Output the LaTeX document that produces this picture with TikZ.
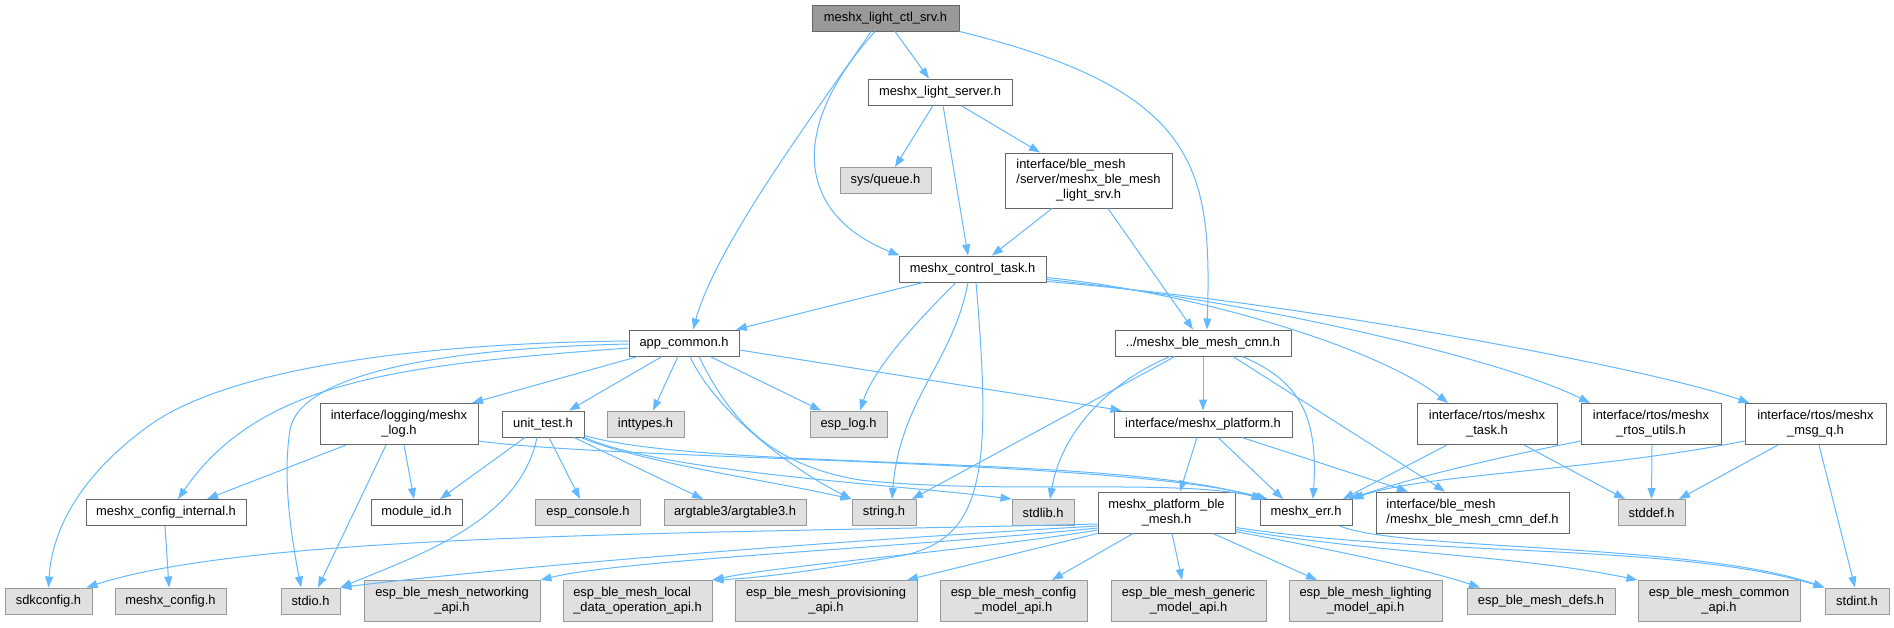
\documentclass[tikz,border=0pt]{standalone}
\usepackage{fontspec}
\setmainfont{Liberation Sans}
\usetikzlibrary{arrows.meta}

\definecolor{edgeblue}{HTML}{63B8FF}
\definecolor{boxline}{HTML}{666666}
\definecolor{sysline}{HTML}{999999}
\definecolor{sysfill}{HTML}{E0E0E0}

% labels on two or three lines, last line centred
\newcommand{\twoln}[2]{\begin{tabular}{@{}l@{}}#1\\\multicolumn{1}{@{}c@{}}{#2}\end{tabular}}
\newcommand{\threeln}[3]{\begin{tabular}{@{}l@{}}#1\\#2\\\multicolumn{1}{@{}c@{}}{#3}\end{tabular}}

\tikzset{
    file/.style={draw=boxline, fill=white, line width=1pt, inner sep=0pt,
        minimum height=26pt, font=\fontsize{12.9}{15}\selectfont},
    sysfile/.style={file, draw=sysline, fill=sysfill},
    rootfile/.style={file, fill=sysline},
    tall/.style={minimum height=41pt},
    dep/.style={draw=edgeblue, line width=1pt, -{Triangle[length=11pt,width=8pt]}}
}

\begin{document}
\begin{tikzpicture}[x=1pt, y=-1pt]

\useasboundingbox (0,0) rectangle (1894,627);

% --- Zeile 0 bis 3 ---
\node[rootfile, minimum width=147pt] (ctl) at (885.5,18) {meshx\_light\_ctl\_srv.h};
\node[file, minimum width=144pt] (lserver) at (940,92) {meshx\_light\_server.h};
\node[sysfile, minimum width=91pt] (queue) at (885.5,180.5) {sys/queue.h};
\node[file, minimum width=167pt, minimum height=55pt] (lightsrv) at (1088.5,180.5)
    {\threeln{interface/ble\_mesh}{/server/meshx\_ble\_mesh}{\_light\_srv.h}};
\node[file, minimum width=147pt] (ctask) at (972.5,269) {meshx\_control\_task.h};

% --- Zeile 4 ---
\node[file, minimum width=110pt] (appc) at (684,343) {app\_common.h};
\node[file, minimum width=176pt] (bmcmn) at (1203,343) {../meshx\_ble\_mesh\_cmn.h};

% --- Zeile 5 ---
\node[file, tall, minimum width=158pt] (mlog) at (399,424) {\twoln{interface/logging/meshx}{\_log.h}};
\node[file, minimum width=82pt] (utest) at (543,424) {unit\_test.h};
\node[sysfile, minimum width=77pt] (inttypes) at (645.5,424) {inttypes.h};
\node[sysfile, minimum width=77pt] (esplog) at (848.5,424) {esp\_log.h};
\node[file, minimum width=178pt] (mplat) at (1203,424) {interface/meshx\_platform.h};
\node[file, tall, minimum width=140pt] (rtask) at (1487,424) {\twoln{interface/rtos/meshx}{\_task.h}};
\node[file, tall, minimum width=140pt] (rutils) at (1651,424) {\twoln{interface/rtos/meshx}{\_rtos\_utils.h}};
\node[file, tall, minimum width=141pt] (rmsgq) at (1815.5,424) {\twoln{interface/rtos/meshx}{\_msg\_q.h}};

% --- Zeile 6 ---
\node[file, minimum width=160pt] (cfgint) at (166,512.5) {meshx\_config\_internal.h};
\node[file, minimum width=91pt] (modid) at (416.5,512.5) {module\_id.h};
\node[sysfile, minimum width=105pt] (espcons) at (588,512.5) {esp\_console.h};
\node[sysfile, minimum width=142pt] (argt) at (735,512.5) {argtable3/argtable3.h};
\node[sysfile, minimum width=64pt] (strh) at (884,512.5) {string.h};
\node[sysfile, minimum width=62pt] (stdlibh) at (1043,512.5) {stdlib.h};
\node[file, tall, minimum width=137pt] (pblemesh) at (1166.5,512.5) {\twoln{meshx\_platform\_ble}{\_mesh.h}};
\node[file, minimum width=92pt] (merr) at (1306,512.5) {meshx\_err.h};
\node[file, tall, minimum width=193pt] (cmndef) at (1472.5,512.5) {\twoln{interface/ble\_mesh}{/meshx\_ble\_mesh\_cmn\_def.h}};
\node[sysfile, minimum width=67pt] (stddefh) at (1651.5,512.5) {stddef.h};

% --- Zeile 7 ---
\node[sysfile, minimum width=87pt] (sdkcfg) at (48.5,601) {sdkconfig.h};
\node[sysfile, minimum width=111pt] (mcfg) at (170.5,601) {meshx\_config.h};
\node[sysfile, minimum width=59pt] (stdioh) at (310.5,601) {stdio.h};
\node[sysfile, tall, minimum width=176pt] (netapi) at (452,601) {\twoln{esp\_ble\_mesh\_networking}{\_api.h}};
\node[sysfile, tall, minimum width=149pt] (localapi) at (637.5,601) {\twoln{esp\_ble\_mesh\_local}{\_data\_operation\_api.h}};
\node[sysfile, tall, minimum width=182pt] (provapi) at (826,601) {\twoln{esp\_ble\_mesh\_provisioning}{\_api.h}};
\node[sysfile, tall, minimum width=147pt] (cfgapi) at (1013.5,601) {\twoln{esp\_ble\_mesh\_config}{\_model\_api.h}};
\node[sysfile, tall, minimum width=155pt] (genapi) at (1188.5,601) {\twoln{esp\_ble\_mesh\_generic}{\_model\_api.h}};
\node[sysfile, tall, minimum width=153pt] (lightapi) at (1365.5,601) {\twoln{esp\_ble\_mesh\_lighting}{\_model\_api.h}};
\node[sysfile, minimum width=148pt] (defsh) at (1541,601) {esp\_ble\_mesh\_defs.h};
\node[sysfile, tall, minimum width=162pt] (commapi) at (1719,601) {\twoln{esp\_ble\_mesh\_common}{\_api.h}};
\node[sysfile, minimum width=64pt] (stdinth) at (1857,601) {stdint.h};

% --- Kanten von meshx_light_ctl_srv.h ---
\draw[dep] ([xshift=-14.5pt]ctl.south) .. controls +(-40,60) and +(25,-90) .. ([xshift=9pt]appc.north);
\draw[dep] ([xshift=-10.5pt]ctl.south) .. controls +(-90,100) and +(-100,-40) .. ([xshift=1pt]ctask.north west);
\draw[dep] ([xshift=9.5pt]ctl.south) -- ([xshift=-11pt]lserver.north);
\draw[dep] (ctl.south east) .. controls +(241,59) and +(5,-160) .. ([xshift=4pt]bmcmn.north);

% --- meshx_light_server.h ---
\draw[dep] ([xshift=-7pt]lserver.south) -- ([xshift=9.5pt]queue.north);
\draw[dep] ([xshift=3pt]lserver.south) -- ([xshift=-4.5pt]ctask.north);
\draw[dep] ([xshift=21pt]lserver.south) -- ([xshift=-48.5pt]lightsrv.north);

% --- meshx_ble_mesh_light_srv.h ---
\draw[dep] ([xshift=-36.5pt]lightsrv.south) -- ([xshift=19.5pt]ctask.north);
\draw[dep] ([xshift=19.5pt]lightsrv.south) -- ([xshift=-10pt]bmcmn.north);

% --- meshx_control_task.h ---
\draw[dep] ([xshift=-49.5pt]ctask.south) -- ([xshift=52pt]appc.north);
\draw[dep] ([xshift=-16.5pt]ctask.south) .. controls +(-35,35) and +(15,-45) .. ([xshift=11.5pt]esplog.north);
\draw[dep] ([xshift=-4.5pt]ctask.south) .. controls +(-15,80) and +(8,-100) .. ([xshift=8pt]strh.north);
\draw[dep] ([xshift=3.5pt]ctask.south) .. controls (992,470) and (985,540) .. (900,556)
    .. controls (820,570) and (760,578) .. (localapi.north east);
\draw[dep] ([yshift=5pt]ctask.south east) .. controls +(150,15) and +(-70,-55) .. ([xshift=-39pt]rtask.north);
\draw[dep] ([yshift=3pt]ctask.south east) .. controls +(200,20) and +(-90,-45) .. ([xshift=-61pt]rutils.north);
\draw[dep] ([yshift=1pt]ctask.south east) .. controls +(250,20) and +(-100,-35) .. ([xshift=5pt]rmsgq.north west);

% --- app_common.h ---
\draw[dep] ([yshift=2pt]appc.west) .. controls (420,343) and (230,368) .. (150,425)
    .. controls (80,475) and (52,530) .. (sdkcfg.north);
\draw[dep] ([yshift=-1pt]appc.west) .. controls (450,348) and (300,372) .. (290,430)
    .. controls (282,480) and (292,540) .. ([xshift=-9.5pt]stdioh.north);
\draw[dep] ([yshift=-5pt]appc.west) .. controls +(-229,17) and +(82,-119) .. ([xshift=12pt]cfgint.north);
\draw[dep] ([xshift=-46pt]appc.south) -- ([xshift=73pt]mlog.north);
\draw[dep] ([xshift=-22pt]appc.south) -- ([xshift=26pt]utest.north);
\draw[dep] ([xshift=-6pt]appc.south) -- ([xshift=7.5pt]inttypes.north);
\draw[dep] ([xshift=26pt]appc.south) -- ([xshift=-27.5pt]esplog.north);
\draw[dep] ([xshift=6pt]appc.south) .. controls +(25,55) and +(-60,-30) .. (strh.north west);
\draw[dep] ([xshift=15pt]appc.south) .. controls (730,420) and (770,465) .. (860,480)
    .. controls (1000,495) and (1180,478) .. ([xshift=5pt]merr.north west);
\draw[dep] ([yshift=-7pt]appc.east) -- ([xshift=8pt]mplat.north west);

% --- meshx_log.h ---
\draw[dep] ([xshift=-53pt]mlog.south) -- ([xshift=41pt]cfgint.north);
\draw[dep] ([xshift=-13pt]mlog.south) -- ([xshift=7.5pt]stdioh.north);
\draw[dep] ([xshift=5pt]mlog.south) -- ([xshift=-2.5pt]modid.north);
\draw[dep] ([yshift=-17pt]mlog.east) .. controls +(150,20) and +(-150,-40) .. ([xshift=8pt]merr.north west);

% --- meshx_config_internal.h ---
\draw[dep] ([xshift=-1pt]cfgint.south) -- ([xshift=-1.5pt]mcfg.north);

% --- unit_test.h ---
\draw[dep] ([xshift=-18pt]utest.south) -- ([xshift=23.5pt]modid.north);
\draw[dep] ([xshift=-6pt]utest.south) .. controls +(-17,83) and +(80,-33) .. (stdioh.north east);
\draw[dep] ([xshift=6pt]utest.south) -- ([xshift=-8pt]espcons.north);
\draw[dep] ([xshift=31pt]utest.south) -- ([xshift=-32pt]argt.north);
\draw[dep] ([xshift=38pt]utest.south) .. controls +(60,25) and +(-90,-20) .. (strh.north west);
\draw[dep] (utest.south east) .. controls +(80,35) and +(-120,-15) .. (stdlibh.north west);
\draw[dep] ([yshift=2pt]utest.south east) .. controls +(120,35) and +(-150,-45) .. ([xshift=3pt]merr.north west);

% --- meshx_platform.h ---
\draw[dep] ([xshift=-6pt]mplat.south) -- ([xshift=13.5pt]pblemesh.north);
\draw[dep] ([xshift=15pt]mplat.south) -- ([xshift=-23pt]merr.north);
\draw[dep] ([xshift=39pt]mplat.south) -- ([xshift=-64.5pt]cmndef.north);

% --- meshx_ble_mesh_cmn.h ---
\draw[dep] ([xshift=-28pt]bmcmn.south) -- ([xshift=28pt]strh.north);
\draw[dep] ([xshift=-33pt]bmcmn.south) .. controls +(-70,30) and +(10,-60) .. ([xshift=7pt]stdlibh.north);
\draw[dep] (bmcmn.south) -- (mplat.north);
\draw[dep] ([xshift=39pt]bmcmn.south) .. controls +(60,25) and +(5,-80) .. ([xshift=7pt]merr.north);
\draw[dep] ([xshift=30pt]bmcmn.south) -- ([xshift=-27.5pt]cmndef.north);

% --- rtos ---
\draw[dep] ([xshift=-40pt]rtask.south) -- ([xshift=37pt]merr.north);
\draw[dep] ([xshift=37pt]rtask.south) -- ([xshift=-26.5pt]stddefh.north);
\draw[dep] ([yshift=-17pt]rutils.west) .. controls +(-100,20) and +(60,-20) .. ([xshift=43pt]merr.north);
\draw[dep] ([xshift=1pt]rutils.south) -- (stddefh.north);
\draw[dep] ([yshift=-17pt]rmsgq.west) .. controls +(-150,30) and +(70,-25) .. (merr.north east);
\draw[dep] ([xshift=-37.5pt]rmsgq.south) -- ([xshift=27.5pt]stddefh.north);
\draw[dep] ([xshift=3.5pt]rmsgq.south) -- ([xshift=-2pt]stdinth.north);

% --- meshx_err.h ---
\draw[dep] ([xshift=34pt]merr.south) .. controls +(60,25) and +(-130,-45) .. (stdinth.north west);

% --- meshx_platform_ble_mesh.h ---
\draw[dep] ([yshift=-11.5pt]pblemesh.west) .. controls +(-400,10) and +(170,-55) .. ([xshift=-6pt]sdkcfg.north east);
\draw[dep] ([yshift=-13.5pt]pblemesh.west) .. controls +(-350,20) and +(120,-15) .. (stdioh.north east);
\draw[dep] ([yshift=-15.5pt]pblemesh.west) .. controls +(-200,20) and +(80,-20) .. (netapi.north east);
\draw[dep] ([yshift=-17.5pt]pblemesh.west) .. controls +(-120,20) and +(70,-15) .. (localapi.north east);
\draw[dep] (pblemesh.south west) -- ([xshift=81pt]provapi.north);
\draw[dep] ([xshift=-33.5pt]pblemesh.south) -- ([xshift=38.5pt]cfgapi.north);
\draw[dep] ([xshift=5.5pt]pblemesh.south) -- ([xshift=-6.5pt]genapi.north);
\draw[dep] ([xshift=46.5pt]pblemesh.south) -- ([xshift=-48.5pt]lightapi.north);
\draw[dep] ([yshift=2pt]pblemesh.south east) .. controls +(80,15) and +(-60,-20) .. ([xshift=-61pt]defsh.north);
\draw[dep] ([yshift=4pt]pblemesh.south east) .. controls +(150,25) and +(-120,-25) .. (commapi.north west);
\draw[dep] ([yshift=6pt]pblemesh.south east) .. controls +(200,30) and +(-150,-45) .. (stdinth.north west);

\end{tikzpicture}
\end{document}
